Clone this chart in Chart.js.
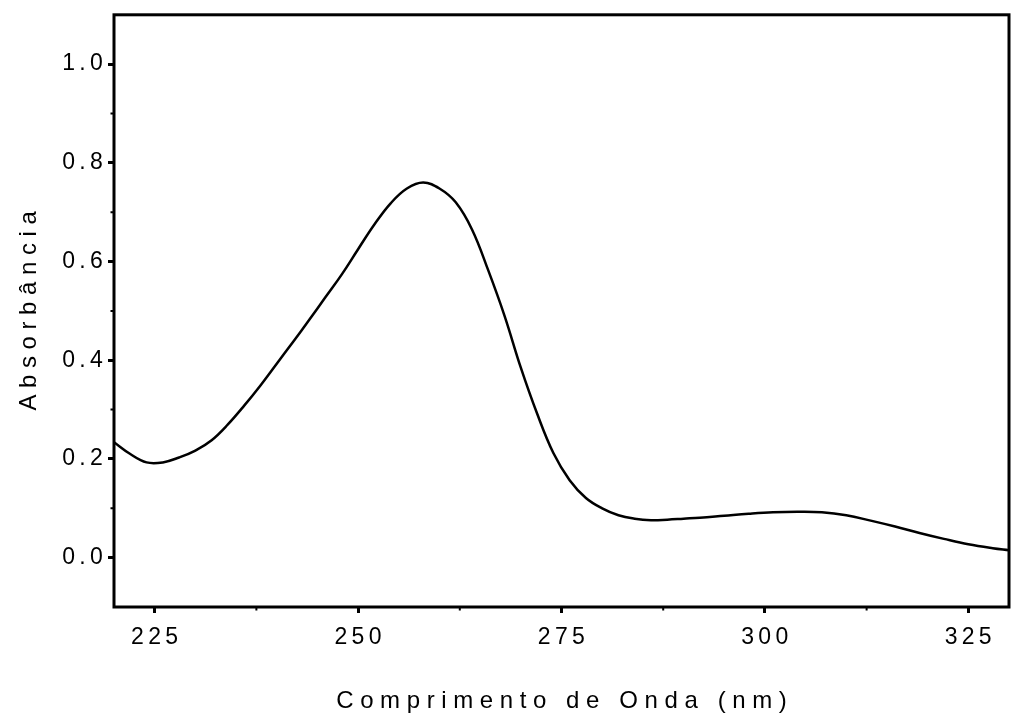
<!DOCTYPE html>
<html>
<head>
<meta charset="utf-8">
<script src="https://cdn.jsdelivr.net/npm/chart.js@4.4.1/dist/chart.umd.min.js"></script>
<style>
    html, body { margin: 0; padding: 0; background: #fff; }
    canvas { display: block; }
</style>
</head>
<body>
<canvas id="canvas" width="1011" height="716"></canvas>
<script>
// UV spectrum: wavelength (nm) vs absorbance
const wavelength = [220, 222, 224, 226, 228, 230, 232, 234, 236, 238,
    240, 242, 244, 246, 248, 250, 252, 254, 256, 258,
    260, 262, 264, 266, 268, 270, 272, 274, 276, 278,
    280, 282, 284, 286, 288, 290, 292, 295, 298, 301,
    304, 307, 310, 313, 316, 319, 322, 325, 328, 330];
const absorbance = [0.234, 0.210, 0.193, 0.193, 0.203, 0.217, 0.238, 0.270, 0.308, 0.349,
    0.393, 0.437, 0.482, 0.528, 0.574, 0.625, 0.675, 0.718, 0.748, 0.760,
    0.748, 0.720, 0.665, 0.582, 0.490, 0.385, 0.292, 0.212, 0.157, 0.121,
    0.100, 0.086, 0.079, 0.076, 0.077, 0.079, 0.081, 0.085, 0.089, 0.092,
    0.093, 0.092, 0.086, 0.075, 0.063, 0.050, 0.038, 0.027, 0.019, 0.015];

const xTicks = [225, 250, 275, 300, 325];
const xMinorTicks = [237.5, 262.5, 287.5, 312.5];
const yTicks = [0, 0.2, 0.4, 0.6, 0.8, 1.0];
const yMinorTicks = [0.1, 0.3, 0.5, 0.7, 0.9];

const xTitle = "Comprimento de Onda (nm)";
const yTitle = "Absorbância";

const FONT = "Liberation Sans, Arial, sans-serif";
const TICK_SPACING = "4.3px";
const TITLE_SPACING = 6.6;

// spaced-out lettering, minor ticks, box frame and axis titles
const framePlugin = {
    id: "frame",
    beforeUpdate(chart) { chart.ctx.letterSpacing = TICK_SPACING; },
    beforeDraw(chart) { chart.ctx.letterSpacing = TICK_SPACING; },
    afterDatasetsDraw(chart) {
        const { ctx, chartArea: a, scales } = chart;
        ctx.save();
        ctx.strokeStyle = "#000";
        ctx.lineWidth = 2;
        ctx.beginPath();
        xMinorTicks.forEach(v => {
            const px = scales.x.getPixelForValue(v);
            ctx.moveTo(px, a.bottom);
            ctx.lineTo(px, a.bottom + 3.5);
        });
        yMinorTicks.forEach(v => {
            const py = scales.y.getPixelForValue(v);
            ctx.moveTo(a.left, py);
            ctx.lineTo(a.left - 3.5, py);
        });
        ctx.stroke();

        ctx.lineWidth = 3;
        ctx.strokeRect(a.left, a.top, a.right - a.left, a.bottom - a.top);

        ctx.fillStyle = "#000";
        ctx.font = "24px " + FONT;
        ctx.letterSpacing = TITLE_SPACING + "px";
        ctx.textAlign = "left";
        ctx.textBaseline = "alphabetic";

        let w = ctx.measureText(xTitle).width - TITLE_SPACING;
        ctx.fillText(xTitle, (a.left + a.right) / 2 - w / 2, 708);

        w = ctx.measureText(yTitle).width - TITLE_SPACING;
        ctx.translate(36, (a.top + a.bottom) / 2);
        ctx.rotate(-Math.PI / 2);
        ctx.fillText(yTitle, -w / 2, 0);
        ctx.restore();
    }
};

const ctx = document.getElementById("canvas").getContext("2d");

new Chart(ctx, {
    type: "line",
    data: {
        datasets: [{
            data: wavelength.map((x, i) => ({ x: x, y: absorbance[i] })),
            borderColor: "#000",
            borderWidth: 2.5,
            pointRadius: 0,
            fill: false,
            tension: 0.4
        }]
    },
    options: {
        responsive: false,
        animation: false,
        events: [],
        layout: { padding: { top: 14, right: 2, left: 0, bottom: 0 } },
        plugins: {
            legend: { display: false },
            tooltip: { enabled: false }
        },
        scales: {
            x: {
                type: "linear",
                min: 220,
                max: 330,
                afterBuildTicks: scale => { scale.ticks = xTicks.map(v => ({ value: v })); },
                afterFit: scale => { scale.height = 109; },
                border: { display: false },
                grid: {
                    drawOnChartArea: false,
                    drawTicks: true,
                    tickLength: 6,
                    tickWidth: 3,
                    tickColor: "#000"
                },
                ticks: {
                    color: "#000",
                    font: { family: FONT, size: 23 },
                    padding: 11,
                    labelOffset: 2,
                    maxRotation: 0,
                    callback: v => String(v)
                }
            },
            y: {
                min: -0.1,
                max: 1.1,
                afterBuildTicks: scale => { scale.ticks = yTicks.map(v => ({ value: v })); },
                afterFit: scale => { scale.width = 114; },
                border: { display: false },
                grid: {
                    drawOnChartArea: false,
                    drawTicks: true,
                    tickLength: 6,
                    tickWidth: 3,
                    tickColor: "#000"
                },
                ticks: {
                    color: "#000",
                    font: { family: FONT, size: 23 },
                    padding: 1,
                    callback: v => v.toFixed(1)
                }
            }
        }
    },
    plugins: [framePlugin]
});
</script>
</body>
</html>
